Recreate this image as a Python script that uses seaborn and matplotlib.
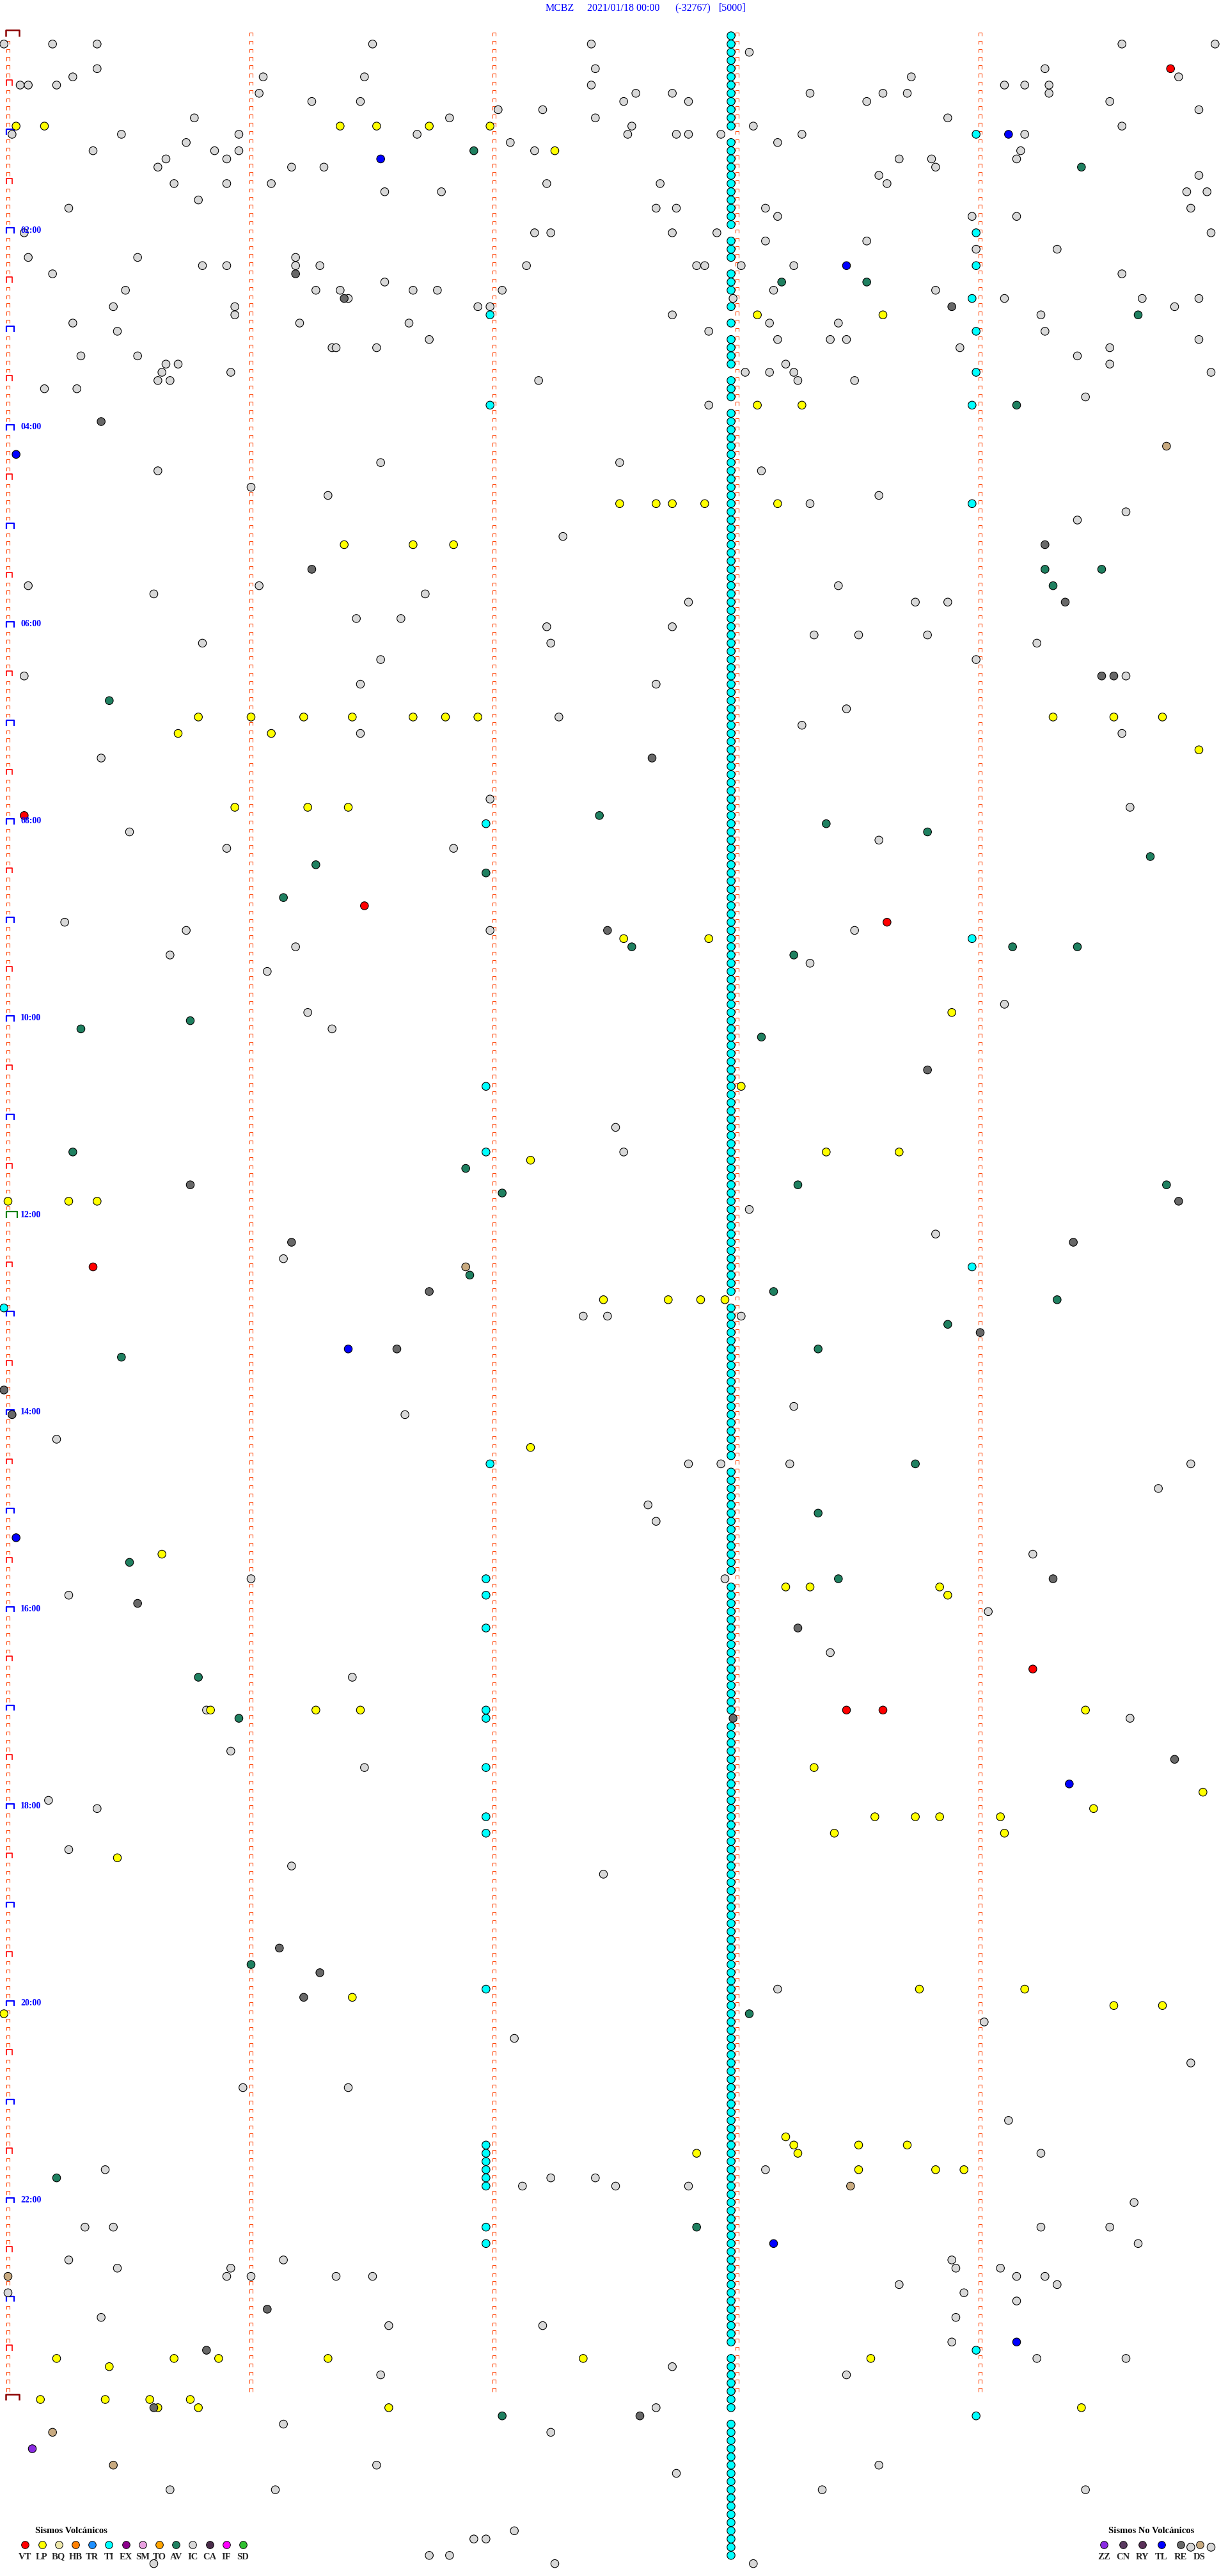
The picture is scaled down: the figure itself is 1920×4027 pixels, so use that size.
import numpy as np
import pandas as pd
import matplotlib
matplotlib.use("Agg")
import matplotlib.pyplot as plt
from matplotlib.collections import LineCollection
import seaborn as sns

# Cada evento: (fila de 5 minutos desde 00:00, segundo dentro de la fila 0-300)
IC = [(1, -1), (1, 11), (1, 22), (1, 90), (1, 144), (1, 275), (1, 298),
      (2, 183), (4, 22), (4, 145), (4, 256),
      (5, 16), (5, 63), (5, 88), (5, 223), (5, 289),
      (6, 3), (6, 5), (6, 12), (6, 144), (6, 246), (6, 251), (6, 257),
      (7, 62), (7, 155), (7, 164), (7, 198), (7, 216), (7, 222), (7, 257),
      (8, 75), (8, 87), (8, 152), (8, 168), (8, 212), (8, 272),
      (9, 121), (9, 132), (9, 294), (10, 46), (10, 109), (10, 145), (10, 232),
      (11, 154), (11, 184), (11, 275),
      (12, 1), (12, 28), (12, 57), (12, 101), (12, 153), (12, 165), (12, 168), (12, 176), (12, 196), (12, 251),
      (13, 44), (13, 124), (13, 190), (14, 21), (14, 51), (14, 57), (14, 130), (14, 250),
      (15, 39), (15, 54), (15, 220), (15, 228), (15, 249), (16, 37), (16, 70), (16, 78), (16, 229),
      (17, 215), (17, 294), (18, 41), (18, 54), (18, 65), (18, 133), (18, 161), (18, 217),
      (19, 93), (19, 107), (19, 291), (19, 296), (20, 47),
      (21, 15), (21, 160), (21, 165), (21, 187), (21, 292), (22, 190), (22, 238), (22, 249),
      (24, 4), (24, 130), (24, 134), (24, 164), (24, 175), (24, 297),
      (25, 187), (25, 212), (26, 239), (26, 259), (27, 5), (27, 32), (27, 71),
      (28, 48), (28, 54), (28, 71), (28, 77), (28, 128), (28, 170), (28, 172), (28, 181), (28, 194),
      (29, 11), (29, 275), (30, 93),
      (31, 29), (31, 76), (31, 82), (31, 100), (31, 106), (31, 122), (31, 189), (31, 229),
      (32, 84), (32, 179), (32, 246), (32, 280), (32, 294),
      (33, 26), (33, 56), (33, 116), (33, 119), (33, 288), (34, 56), (34, 164), (34, 255),
      (35, 16), (35, 72), (35, 99), (35, 188), (35, 205), (36, 27), (36, 173), (36, 256),
      (37, 104), (37, 190), (37, 203), (37, 207), (37, 294),
      (38, 80), (38, 81), (38, 91), (38, 235), (38, 272), (39, 18), (39, 32), (39, 264),
      (40, 39), (40, 42), (40, 192), (40, 272),
      (41, 38), (41, 55), (41, 182), (41, 188), (41, 194), (41, 297),
      (42, 37), (42, 40), (42, 131), (42, 195), (42, 209), (43, 9), (43, 17), (44, 266),
      (45, 173),
      (52, 92), (52, 151), (53, 37), (53, 186), (55, 60), (56, 79), (56, 215), (57, 198),
      (58, 276), (59, 264), (61, 137), (67, 5), (67, 62), (67, 205), (68, 36), (68, 103),
      (69, 168), (69, 224), (69, 232), (71, 86), (71, 97), (72, 133), (72, 164),
      (73, 199), (73, 210), (73, 227), (74, 48), (74, 134), (74, 254), (76, 92), (76, 239),
      (78, 4), (78, 276), (79, 87), (79, 160), (82, 207), (83, 136), (84, 196), (85, 87),
      (85, 275), (88, 23), (93, 119), (94, 277), (97, 30), (98, 215), (99, 54), (99, 110),
      (108, 14), (109, 44), (109, 119), (109, 209), (111, 71), (112, 40), (113, 198),
      (114, 64), (118, 246), (119, 74), (121, 80), (133, 150), (136, 152), (143, 183),
      (146, 229), (149, 68), (156, 142), (156, 148), (156, 181), (167, 194), (168, 98),
      (171, 12), (174, 168), (174, 176), (174, 193), (174, 292), (177, 284), (179, 158),
      (181, 160), (185, 253), (188, 60), (188, 177), (190, 15), (192, 242), (197, 203),
      (200, 85), (204, 49), (205, 277), (209, 55), (211, 88), (215, 10), (216, 22),
      (221, 15), (223, 70), (224, 147), (238, 190), (242, 241), (244, 125), (247, 292),
      (250, 58), (250, 84), (254, 247), (258, 255), (260, 24), (260, 187), (261, 134),
      (261, 145), (262, 127), (262, 150), (262, 168), (264, 278), (267, 19), (267, 26),
      (267, 255), (267, 272), (269, 279), (271, 15), (271, 68), (271, 233), (272, 27),
      (272, 55), (272, 234), (272, 245), (273, 54), (273, 60), (273, 81), (273, 90),
      (273, 249), (273, 256), (274, 220), (274, 259), (275, 0), (275, 236), (276, 249),
      (278, 23), (278, 234), (279, 94), (279, 132), (281, 233), (283, 254), (283, 276),
      (284, 164), (285, 92), (285, 207), (289, 160), (291, 68), (292, 134), (296, 91),
      (296, 215), (297, 165), (299, 40), (299, 66), (299, 201), (299, 266), (304, 125),
      (305, 115), (305, 118), (306, 292), (306, 297), (307, 104), (307, 109), (308, 36),
      (308, 135), (308, 184)]
LP = [(11, 2), (11, 9), (11, 82), (11, 91), (11, 104), (11, 119), (14, 135),
      (34, 185), (34, 216), (45, 185), (45, 196),
      (57, 151), (57, 160), (57, 164), (57, 172), (57, 190), (62, 83), (62, 100), (62, 110),
      (83, 47), (83, 60), (83, 73), (83, 85), (83, 100), (83, 108), (83, 116), (83, 258),
      (83, 273), (83, 285), (85, 42), (85, 65), (87, 294), (94, 56), (94, 74), (94, 84),
      (110, 152), (110, 173), (119, 233), (128, 181), (136, 202), (136, 220), (137, 129),
      (142, 0), (142, 15), (142, 22), (154, 147), (154, 163), (154, 171), (154, 177),
      (172, 129), (185, 38), (189, 192), (189, 198), (189, 230), (190, 232),
      (204, 50), (204, 76), (204, 87), (204, 266), (211, 199), (214, 295), (216, 268),
      (217, 214), (217, 224), (217, 230), (217, 245), (219, 204), (219, 246), (222, 27),
      (238, 225), (238, 251), (239, 85), (240, 273), (240, 285), (241, -1),
      (256, 192), (257, 194), (258, 195), (257, 210), (257, 222), (258, 170),
      (260, 210), (260, 229), (260, 236),
      (283, 12), (283, 41), (283, 52), (283, 79), (283, 142), (283, 213), (284, 25),
      (288, 8), (288, 24), (288, 35), (288, 45), (289, 37), (289, 47), (289, 94), (289, 265)]
VT = [(4, 287), (95, 4), (106, 88), (108, 217), (150, 21), (199, 253), (204, 207), (204, 216)]
TL = [(12, 247), (15, 92), (28, 207), (51, 2), (160, 84), (183, 2), (213, 262), (269, 189),
      (281, 249)]
AV = [(14, 115), (16, 265), (30, 191), (30, 212), (34, 279), (45, 249),
      (65, 256), (65, 270), (67, 258), (81, 25), (95, 146), (96, 202), (97, 227), (100, 282),
      (101, 76), (102, 118), (105, 68), (111, 154), (111, 248), (111, 264), (112, 194),
      (120, 45), (121, 18), (122, 186), (136, 16), (138, 113), (140, 195), (140, 286),
      (141, 122), (151, 114), (153, 189), (154, 259), (157, 232), (160, 200), (161, 28),
      (174, 224), (180, 200), (186, 30), (188, 205), (200, 47), (205, 57), (235, 60),
      (241, 183), (261, 12), (267, 170), (290, 122)]
RE = [(29, 71), (32, 83), (33, 233), (47, 23),
      (62, 256), (65, 75), (69, 261), (78, 270), (78, 273), (88, 159), (109, 148), (126, 227),
      (140, 45), (142, 289), (147, 70), (147, 263), (153, 104), (158, 240), (160, 96),
      (165, -1), (168, 1), (188, 258), (191, 32), (194, 195), (205, 179), (210, 288),
      (233, 67), (236, 77), (239, 73), (277, 64), (282, 49), (289, 36), (290, 156)]
DS = [(50, 286), (150, 113), (262, 208), (273, 0), (292, 11), (296, 26)]
ZZ = [(294, 6)]
TI = [(12, 239), (24, 239), (28, 239), (32, 238), (34, 119), (36, 239), (41, 239), (45, 119),
      (45, 238), (57, 238), (96, 118), (110, 238), (128, 118), (136, 118), (150, 238),
      (155, -1), (174, 119), (188, 118), (190, 118), (194, 118), (204, 118), (205, 118),
      (211, 118), (217, 118), (219, 118), (238, 118), (257, 118), (258, 118), (259, 118),
      (260, 118), (261, 118), (262, 118), (267, 118), (269, 118), (282, 239), (290, 239)]
# filas con el evento TI repetitivo (columna casi continua)
ti_gaps = [12, 24, 28, 32, 34, 36, 41, 45, 154, 174, 188, 205, 282, 290]
ti_line_rows = [r for r in range(0, 308) if r not in ti_gaps]
ti_line_sec = 178.5

vol_codes = ['VT', 'LP', 'BQ', 'HB', 'TR', 'TI', 'EX', 'SM', 'TO', 'AV', 'IC', 'CA', 'IF', 'SD']
vol_colors = ['#ff0000', '#ffff00', '#eee8aa', '#ff8000', '#1e90ff', '#00ffff', '#8b008b',
              '#e8a0e0', '#ffa500', '#1f8060', '#d8d8d8', '#4a2d4a', '#ff00ff', '#30c030']
nov_codes = ['ZZ', 'CN', 'RY', 'TL', 'RE', 'DS']
nov_colors = ['#8a2be2', '#5a3a60', '#5a3058', '#0000ff', '#686868', '#c8aa80']

hour_labels = ['02:00', '04:00', '06:00', '08:00', '10:00', '12:00',
               '14:00', '16:00', '18:00', '20:00', '22:00']
title_parts = ['MCBZ', '2021/01/18 00:00', '(-32767)', '[5000]']

palette = dict(zip(vol_codes + nov_codes, vol_colors + nov_colors))

recs = []
for r in ti_line_rows:
    recs.append(('TI', r, ti_line_sec))
for code, evs in [('IC', IC), ('TI', TI), ('LP', LP), ('AV', AV), ('RE', RE), ('VT', VT),
                  ('TL', TL), ('DS', DS), ('ZZ', ZZ)]:
    for r, s in evs:
        recs.append((code, r, s))
df = pd.DataFrame(recs, columns=['tipo', 'fila', 'seg'])

sns.set_theme(style='white')
plt.rcParams['font.family'] = ['Liberation Serif', 'DejaVu Serif']

W, H = 1920, 4027
fig = plt.figure(figsize=(W / 100, H / 100), dpi=100)
ax = fig.add_axes([0, 0, 1, 1])
# 1 s = 6.333 px, 1 fila = 12.83 px
px_s = 380 / 60
px_r = 12.83
ax.set_xlim(-12.5 / px_s, (W - 12.5) / px_s)
ax.set_ylim((H - 56) / px_r, -56 / px_r)
ax.axis('off')


def bracket(x0, r, w, top, bot):
    # w, top, bot en pixeles
    x1 = x0 + w / px_s
    return [(x0, r + bot / px_r), (x0, r + top / px_r), (x1, r + top / px_r), (x1, r + bot / px_r)]


# marcas de fila (5 min) en cada minuto
small = []
for k in range(5):
    for r in range(288):
        if k == 0 and r % 6 == 0:
            continue
        small.append(bracket(60 * k - 0.4, r, 5.5, -5.0, 0.4))
ax.add_collection(LineCollection(small, colors='#ff4a10', linewidths=0.8, zorder=2))

half = [bracket(-0.4, r, 9, -7.7, 0.7) for r in range(6, 288, 12)]
ax.add_collection(LineCollection(half, colors='#ff0000', linewidths=1.2, zorder=2))
hours = [bracket(-0.4, r, 12, -7.5, 1.0) for r in range(12, 288, 12) if r != 144]
ax.add_collection(LineCollection(hours, colors='#0000ff', linewidths=1.6, zorder=2))
ax.add_collection(LineCollection([bracket(-0.4, 144, 17, -9.2, 0.8)], colors='#008000',
                                 linewidths=1.6, zorder=2))
ax.add_collection(LineCollection([bracket(-0.5, 0, 21, -9.3, 0.7), bracket(-0.5, 288, 21, -8.3, 1.3)],
                                 colors='#8b0000', linewidths=1.8, zorder=2))

for i, lab in enumerate(hour_labels):
    r = 24 * (i + 1)
    ax.text((32 - 12.5) / px_s, r - 0.3, lab, color='#0000ff', fontsize=10, fontweight='bold',
            ha='left', va='center', zorder=4)

sns.scatterplot(data=df, x='seg', y='fila', hue='tipo', palette=palette, s=80,
                edgecolor='black', linewidth=0.8, legend=False, ax=ax, zorder=3)

# titulo
for txt, xp in zip(title_parts, [853, 918, 1055, 1124]):
    fig.text(xp / W, 1 - 13 / H, txt, color='#0000ff', fontsize=11.5, ha='left', va='center')

# leyendas
fig.text(55 / W, 1 - 3957 / H, 'Sismos Volcánicos', fontsize=10.5, fontweight='bold',
         ha='left', va='center', color='black')
for i, (c, col) in enumerate(zip(vol_codes, vol_colors)):
    xp = 39.3 + 26.2 * i
    ax.scatter([xp / W], [1 - 3978 / H], s=70, color=col, edgecolor='black', linewidth=0.7,
               transform=ax.transAxes, zorder=5)
    fig.text(xp / W, 1 - 3997 / H, c, fontsize=10.5, fontweight='bold', ha='center', va='center')

fig.text(1733 / W, 1 - 3957 / H, 'Sismos No Volcánicos', fontsize=10.5, fontweight='bold',
         ha='left', va='center', color='black')
for i, (c, col) in enumerate(zip(nov_codes, nov_colors)):
    xp = 1726 + 29.9 * i
    ax.scatter([xp / W], [1 - 3978 / H], s=70, color=col, edgecolor='black', linewidth=0.7,
               transform=ax.transAxes, zorder=5)
    fig.text(xp / W, 1 - 3997 / H, c, fontsize=10.5, fontweight='bold', ha='center', va='center')

fig.savefig('out.png', dpi=100, facecolor='white')
